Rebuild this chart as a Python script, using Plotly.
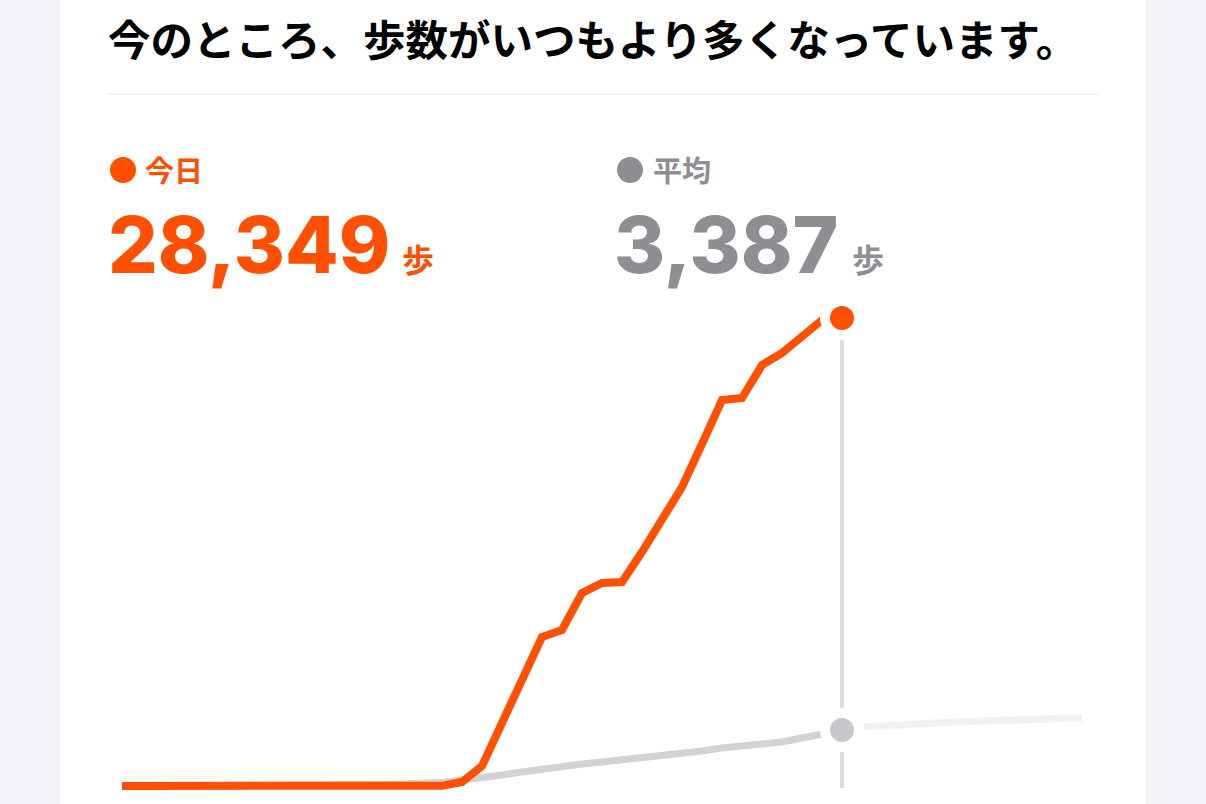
import plotly.graph_objects as go

# ---------------- data ----------------
title_text = "今のところ、歩数がいつもより多くなっています。"
label_today = "今日"
label_avg = "平均"
unit = "歩"
today_total = 28349
avg_total = 3387
now_hour = 18.0

hours = [0, 0.5, 1, 1.5, 2, 2.5, 3, 3.5, 4, 4.5, 5, 5.5, 6, 6.5, 7, 7.5,
         8, 8.5, 9, 9.5, 10, 10.5, 11, 11.5, 12, 12.5, 13, 13.5, 14, 14.5,
         15, 15.5, 16, 16.5, 17, 17.5, 18, 18.5, 19, 19.5, 20, 20.5, 21,
         21.5, 22, 22.5, 23, 23.5, 24]

today_steps = [0, 0, 0, 0, 0, 0, 0, 0, 0, 0, 0, 0, 0, 0, 0, 0,
               20, 242, 1211, 3816, 6421, 9026, 9450, 11691, 12297, 12357,
               14175, 16113, 18112, 20717, 23382, 23503, 25502, 26229,
               27198, 28228, 28349]

avg_steps = [0, 0, 0, 0, 0, 0, 0, 0, 5, 10, 15,
             30, 60, 90, 120, 160, 220, 363, 485, 666, 848, 1030, 1211,
             1333, 1454, 1575, 1696, 1817, 1999, 2120, 2302, 2423, 2484,
             2665, 2908, 3150, 3387,
             3574, 3635, 3725, 3816, 3877, 3907, 3937, 3998, 4028, 4058,
             4089, 4119]

# ---------------- style ----------------
W, H = 1206, 804
ORANGE = "#ff4f00"
GRAY_TXT = "#8e8e93"
GRAY_PAST = "#d1d1d6"
GRAY_FUTURE = "#f0f0f5"
GRAY_DOT = "#c7c7cc"
BG = "#f2f2f7"

PX_PER_H = 40.0
X0_PX = 122.0
BASE_PX = 786.0
STEPS_PER_PX = today_total / (BASE_PX - 318.0)

xr = [(-X0_PX) / PX_PER_H, (W - X0_PX) / PX_PER_H]
yr = [-(H - BASE_PX) * STEPS_PER_PX, BASE_PX * STEPS_PER_PX]

n_now = hours.index(now_hour)

def px(x):
    return x / W

def py(y):
    return 1 - y / H

fig = go.Figure()

# average: past & future
fig.add_trace(go.Scatter(x=hours[:n_now + 1], y=avg_steps[:n_now + 1], mode="lines",
                         line=dict(color=GRAY_PAST, width=7), hoverinfo="skip"))
fig.add_trace(go.Scatter(x=hours[n_now:], y=avg_steps[n_now:], mode="lines",
                         line=dict(color=GRAY_FUTURE, width=7), hoverinfo="skip"))
# today
fig.add_trace(go.Scatter(x=hours[:len(today_steps)], y=today_steps, mode="lines",
                         line=dict(color=ORANGE, width=8), hoverinfo="skip"))
# current markers
fig.add_trace(go.Scatter(x=[now_hour], y=[avg_steps[n_now]], mode="markers",
                         marker=dict(size=34, color=GRAY_DOT, line=dict(color="white", width=10)),
                         hoverinfo="skip"))
fig.add_trace(go.Scatter(x=[now_hour], y=[today_steps[-1]], mode="markers",
                         marker=dict(size=34, color=ORANGE, line=dict(color="white", width=10)),
                         hoverinfo="skip"))

shapes = [
    # white card
    dict(type="rect", xref="paper", yref="paper", x0=px(60), x1=px(1146), y0=0, y1=1,
         fillcolor="white", line=dict(width=0), layer="below"),
    # divider
    dict(type="line", xref="paper", yref="paper", x0=px(108), x1=px(1098), y0=py(94), y1=py(94),
         line=dict(color="#e5e5ea", width=1.2), layer="below"),
    # current-time vertical rule
    dict(type="line", xref="x", yref="y", x0=now_hour, x1=now_hour,
         y0=-2 * STEPS_PER_PX, y1=today_total - 20 * STEPS_PER_PX,
         line=dict(color="#dcdcdc", width=4), layer="below"),
    # legend dots
    dict(type="circle", xref="paper", yref="paper", x0=px(110), x1=px(136), y0=py(183), y1=py(157),
         fillcolor=ORANGE, line=dict(width=0)),
    dict(type="circle", xref="paper", yref="paper", x0=px(617), x1=px(643), y0=py(183), y1=py(157),
         fillcolor=GRAY_TXT, line=dict(width=0)),
]

CJK = "Noto Sans CJK JP"
NUM = "Inter"

def ann(text, x, y, size, color, family, weight=700):
    return dict(text=text, xref="paper", yref="paper", x=px(x), y=py(y),
                xanchor="left", yanchor="middle", showarrow=False,
                font=dict(size=size, color=color, family=family, weight=weight))

annotations = [
    ann(title_text, 106, 38, 42.5, "black", CJK),
    ann(label_today, 143, 169, 29, ORANGE, CJK),
    ann(label_avg, 651, 169, 29, GRAY_TXT, CJK),
    ann(f"{today_total:,}", 106, 244, 78, ORANGE, NUM, 800),
    ann(unit, 400, 258, 32, ORANGE, CJK),
    ann(f"{avg_total:,}", 612, 244, 78, GRAY_TXT, NUM, 800),
    ann(unit, 850, 258, 32, GRAY_TXT, CJK),
]

fig.update_layout(
    width=W, height=H, margin=dict(l=0, r=0, t=0, b=0),
    paper_bgcolor=BG, plot_bgcolor="rgba(0,0,0,0)",
    showlegend=False, shapes=shapes, annotations=annotations,
    xaxis=dict(range=xr, visible=False, fixedrange=True),
    yaxis=dict(range=yr, visible=False, fixedrange=True),
)

fig.write_html(
    "out.html",
    config={"displayModeBar": False},
    post_script="document.body.style.margin='0';document.body.style.overflow='hidden';",
)
